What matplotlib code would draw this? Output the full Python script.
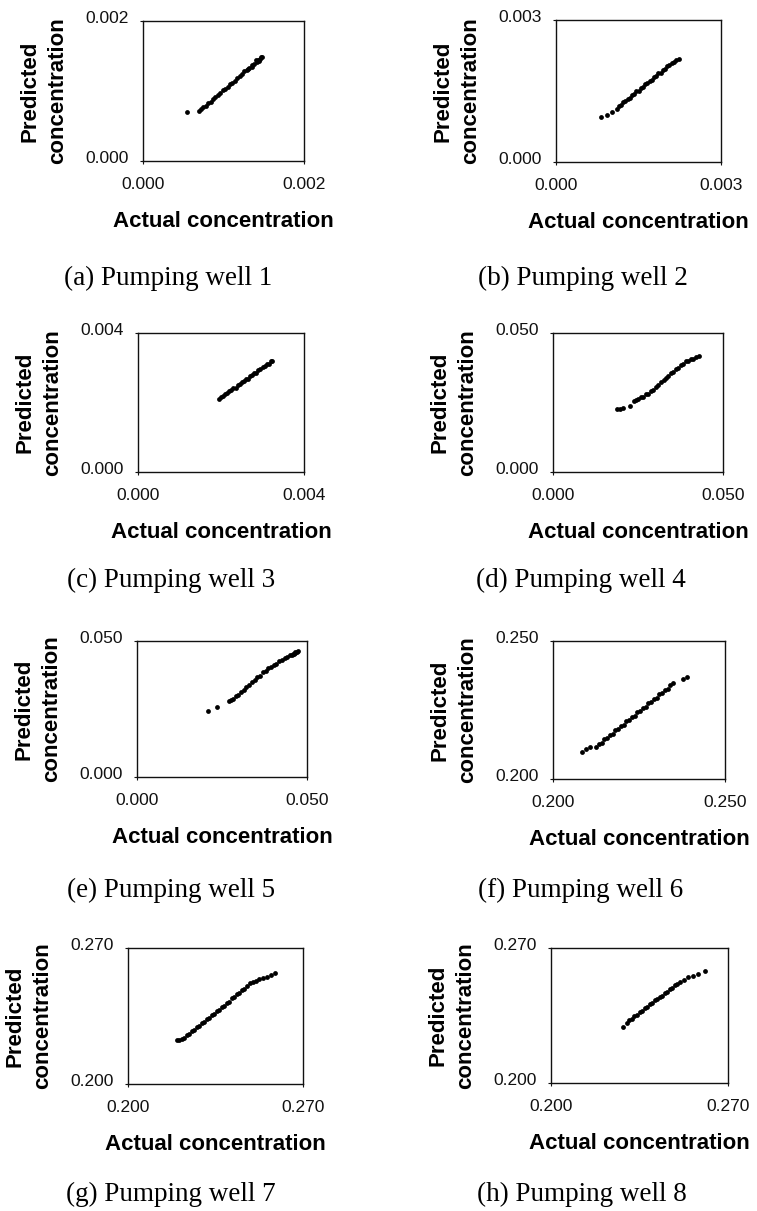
import matplotlib
matplotlib.use("Agg")
import matplotlib.pyplot as plt
import matplotlib.transforms as mtransforms

plt.rcParams["font.family"] = ["Liberation Sans", "DejaVu Sans"]

# ---- data (actual vs predicted concentration) ----
well1_actual = [0.00055, 0.00070, 0.00072, 0.00075, 0.00078, 0.00081, 0.00084, 0.00087, 0.00090,
                0.00093, 0.00096, 0.00099, 0.00102, 0.00105, 0.00108, 0.00111, 0.00114, 0.00117,
                0.00120, 0.00123, 0.00126, 0.00129, 0.00130, 0.00132, 0.00135, 0.00136, 0.00138,
                0.00140, 0.00141, 0.00143, 0.00144, 0.00145, 0.00147, 0.00148]
well1_pred = [0.00070, 0.00071, 0.00075, 0.00077, 0.00079, 0.00083, 0.00085, 0.00088, 0.00092,
              0.00094, 0.00097, 0.00101, 0.00103, 0.00106, 0.00110, 0.00112, 0.00115, 0.00119,
              0.00121, 0.00124, 0.00128, 0.00130, 0.00132, 0.00133, 0.00137, 0.00135, 0.00139,
              0.00144, 0.00142, 0.00145, 0.00143, 0.00146, 0.00148, 0.00149]

well2_actual = [0.00081, 0.00092, 0.00101, 0.00110, 0.00114, 0.00118, 0.00122, 0.00126, 0.00130,
                0.00134, 0.00138, 0.00142, 0.00146, 0.00150, 0.00154, 0.00158, 0.00162, 0.00166,
                0.00170, 0.00174, 0.00178, 0.00182, 0.00186, 0.00190, 0.00194, 0.00198, 0.00202,
                0.00206, 0.00210, 0.00214, 0.00219, 0.00224]
well2_pred = [0.00096, 0.00099, 0.00105, 0.00113, 0.00118, 0.00120, 0.00126, 0.00128, 0.00134,
              0.00135, 0.00141, 0.00143, 0.00149, 0.00151, 0.00156, 0.00158, 0.00164, 0.00166,
              0.00172, 0.00174, 0.00179, 0.00181, 0.00187, 0.00189, 0.00195, 0.00197, 0.00203,
              0.00204, 0.00210, 0.00211, 0.00215, 0.00218]

well3_actual = [0.00195, 0.00200, 0.00205, 0.00210, 0.00215, 0.00220, 0.00225, 0.00230, 0.00235,
                0.00240, 0.00245, 0.00250, 0.00255, 0.00260, 0.00265, 0.00270, 0.00275, 0.00280,
                0.00285, 0.00290, 0.00295, 0.00300, 0.00305, 0.00310, 0.00315, 0.00320, 0.00323]
well3_pred = [0.00210, 0.00215, 0.00218, 0.00224, 0.00226, 0.00233, 0.00235, 0.00241, 0.00243,
              0.00250, 0.00252, 0.00258, 0.00261, 0.00267, 0.00269, 0.00276, 0.00278, 0.00284,
              0.00286, 0.00293, 0.00295, 0.00301, 0.00304, 0.00310, 0.00312, 0.00318, 0.00320]

well4_actual = [0.0187, 0.0197, 0.0207, 0.0225, 0.0238, 0.0244, 0.0251, 0.0258, 0.0266, 0.0273,
                0.0280, 0.0288, 0.0295, 0.0302, 0.0310, 0.0317, 0.0325, 0.0332, 0.0339, 0.0347,
                0.0354, 0.0361, 0.0369, 0.0376, 0.0383, 0.0391, 0.0398, 0.0405, 0.0413, 0.0421,
                0.0429]
well4_pred = [0.0225, 0.0228, 0.0231, 0.0237, 0.0255, 0.0260, 0.0262, 0.0269, 0.0270, 0.0279,
              0.0282, 0.0292, 0.0296, 0.0307, 0.0312, 0.0324, 0.0330, 0.0339, 0.0344, 0.0355,
              0.0360, 0.0369, 0.0374, 0.0385, 0.0390, 0.0398, 0.0399, 0.0407, 0.0408, 0.0415,
              0.0418]

well5_actual = [0.0210, 0.0234, 0.0272, 0.0276, 0.0282, 0.0290, 0.0298, 0.0306, 0.0314, 0.0322,
                0.0330, 0.0338, 0.0346, 0.0354, 0.0362, 0.0370, 0.0378, 0.0386, 0.0394, 0.0402,
                0.0410, 0.0418, 0.0426, 0.0434, 0.0442, 0.0450, 0.0458, 0.0464, 0.0470, 0.0473,
                0.0466, 0.0462, 0.0455]
well5_pred = [0.0244, 0.0256, 0.0279, 0.0284, 0.0288, 0.0297, 0.0303, 0.0313, 0.0319, 0.0330,
              0.0337, 0.0348, 0.0355, 0.0366, 0.0373, 0.0385, 0.0391, 0.0400, 0.0405, 0.0413,
              0.0417, 0.0425, 0.0429, 0.0437, 0.0441, 0.0449, 0.0451, 0.0457, 0.0460, 0.0465,
              0.0461, 0.0454, 0.0450]

well6_actual = [0.2083, 0.2096, 0.2108, 0.2125, 0.2133, 0.2141, 0.2149, 0.2157, 0.2165, 0.2173,
                0.2181, 0.2189, 0.2197, 0.2205, 0.2213, 0.2221, 0.2229, 0.2237, 0.2245, 0.2253,
                0.2261, 0.2269, 0.2277, 0.2285, 0.2293, 0.2301, 0.2309, 0.2317, 0.2325, 0.2333,
                0.2341, 0.2350, 0.2379, 0.2390]
well6_pred = [0.2099, 0.2109, 0.2117, 0.2115, 0.2128, 0.2131, 0.2144, 0.2148, 0.2161, 0.2164,
              0.2177, 0.2180, 0.2193, 0.2197, 0.2210, 0.2213, 0.2226, 0.2229, 0.2242, 0.2246,
              0.2259, 0.2262, 0.2275, 0.2278, 0.2291, 0.2295, 0.2308, 0.2311, 0.2324, 0.2327,
              0.2339, 0.2347, 0.2361, 0.2371]

well7_actual = [0.2195, 0.2205, 0.2215, 0.2225, 0.2235, 0.2245, 0.2255, 0.2265, 0.2275, 0.2285,
                0.2295, 0.2305, 0.2315, 0.2325, 0.2335, 0.2345, 0.2355, 0.2365, 0.2375, 0.2385,
                0.2395, 0.2405, 0.2415, 0.2425, 0.2435, 0.2445, 0.2455, 0.2465, 0.2475, 0.2488,
                0.2500, 0.2512, 0.2525, 0.2541, 0.2555, 0.2570, 0.2588]
well7_pred = [0.2227, 0.2228, 0.2232, 0.2238, 0.2253, 0.2257, 0.2273, 0.2278, 0.2294, 0.2298,
              0.2314, 0.2318, 0.2334, 0.2339, 0.2355, 0.2359, 0.2375, 0.2380, 0.2397, 0.2402,
              0.2419, 0.2424, 0.2441, 0.2446, 0.2463, 0.2468, 0.2485, 0.2490, 0.2506, 0.2518,
              0.2526, 0.2532, 0.2538, 0.2544, 0.2553, 0.2562, 0.2573]

well8_actual = [0.2286, 0.2300, 0.2310, 0.2320, 0.2330, 0.2340, 0.2350, 0.2360, 0.2370, 0.2380,
                0.2390, 0.2400, 0.2410, 0.2420, 0.2430, 0.2440, 0.2450, 0.2460, 0.2470, 0.2480,
                0.2490, 0.2500, 0.2510, 0.2525, 0.2543, 0.2563, 0.2583, 0.2609]
well8_pred = [0.2292, 0.2312, 0.2327, 0.2332, 0.2347, 0.2352, 0.2367, 0.2372, 0.2388, 0.2393,
              0.2408, 0.2413, 0.2428, 0.2433, 0.2448, 0.2453, 0.2468, 0.2473, 0.2487, 0.2493,
              0.2507, 0.2513, 0.2525, 0.2535, 0.2548, 0.2555, 0.2565, 0.2581]

axis_limits = [(0.0, 0.002), (0.0, 0.003), (0.0, 0.004), (0.0, 0.050),
               (0.0, 0.050), (0.200, 0.250), (0.200, 0.270), (0.200, 0.270)]
tick_labels = [("0.000", "0.002"), ("0.000", "0.003"), ("0.000", "0.004"), ("0.000", "0.050"),
               ("0.000", "0.050"), ("0.200", "0.250"), ("0.200", "0.270"), ("0.200", "0.270")]
captions = ["(a) Pumping well 1", "(b) Pumping well 2", "(c) Pumping well 3", "(d) Pumping well 4",
            "(e) Pumping well 5", "(f) Pumping well 6", "(g) Pumping well 7", "(h) Pumping well 8"]

actual = [well1_actual, well2_actual, well3_actual, well4_actual,
          well5_actual, well6_actual, well7_actual, well8_actual]
predicted = [well1_pred, well2_pred, well3_pred, well4_pred,
             well5_pred, well6_pred, well7_pred, well8_pred]

# axes boxes in pixels (left, top, right, bottom) and caption positions
W, H = 757, 1211
boxes = [(143, 21, 304, 161), (556, 20, 721, 162),
         (138, 333, 304, 472), (553, 333, 723, 472),
         (137, 641, 307, 777), (553, 641, 725, 779),
         (128, 948, 303, 1084), (551, 948, 728, 1083)]
caption_xy = [(168, 285), (583, 285), (171, 587), (581, 587),
              (171, 897), (581, 897), (171, 1201), (582, 1201)]

fig = plt.figure(figsize=(W / 100, H / 100), dpi=100)
up = mtransforms.ScaledTranslation(0, 4 / 100, fig.dpi_scale_trans)

for i in range(8):
    x0, y0, x1, y1 = boxes[i]
    ax = fig.add_axes([x0 / W, 1 - y1 / H, (x1 - x0) / W, (y1 - y0) / H])
    ax.scatter(actual[i], predicted[i], s=12, c="black", marker="o", linewidths=0)

    lo, hi = axis_limits[i]
    ax.set_xlim(lo, hi)
    ax.set_ylim(lo, hi)
    ax.set_xticks([lo, hi])
    ax.set_yticks([lo, hi])
    ax.set_xticklabels(tick_labels[i])
    ax.set_yticklabels(tick_labels[i])
    ax.tick_params(axis="both", direction="out", length=2.5, width=0.8,
                   labelsize=12.5, colors="#111111")
    ax.tick_params(axis="y", pad=8)
    ax.tick_params(axis="x", pad=9)
    for lab in ax.get_yticklabels():
        lab.set_transform(lab.get_transform() + up)
    for sp in ax.spines.values():
        sp.set_linewidth(1.0)
        sp.set_color("#111111")

    ax.set_xlabel("Actual concentration", fontsize=16, fontweight="bold", labelpad=14)
    ax.set_ylabel("Predicted\nconcentration", fontsize=16, fontweight="bold",
                  labelpad=12, linespacing=1.4)

    cx, cy = caption_xy[i]
    fig.text(cx / W, 1 - cy / H, captions[i], ha="center", va="baseline",
             fontsize=19.5, family=["Liberation Serif", "DejaVu Serif"])

fig.savefig("out.png", dpi=100)
